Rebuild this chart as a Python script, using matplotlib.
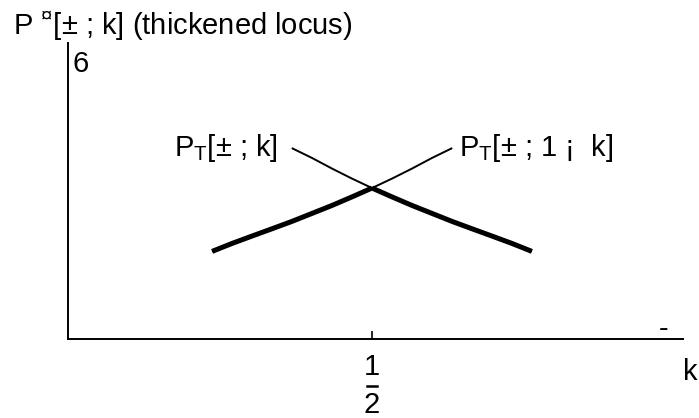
import numpy as np
import matplotlib
matplotlib.use("Agg")
import matplotlib.pyplot as plt

FONT = "Liberation Sans"
plt.rcParams['font.family'] = [FONT, 'DejaVu Sans']
plt.rcParams['mathtext.fontset'] = 'custom'
plt.rcParams['mathtext.rm'] = FONT

# curve: P_T[delta; k] (decreasing); the other branch is P_T[delta; 1-k]
k_dec = [0.368, 0.401, 0.434, 0.467, 0.500, 0.533, 0.566, 0.599, 0.632, 0.665, 0.697, 0.730, 0.763]
v_dec = [0.645, 0.612, 0.576, 0.542, 0.510, 0.480, 0.451, 0.424, 0.397, 0.372, 0.348, 0.323, 0.296]
k_inc = [round(1 - k, 3) for k in k_dec]
v_inc = list(v_dec)

half = 0.5
tick_k = [half]
title_txt = "P $^{¤}$[± ; k] (thickened locus)"
lab_dec = "P$_\\mathrm{T}$[± ; k]"
lab_inc = "P$_\\mathrm{T}$[± ; 1 ¡  k]"

W, H = 699, 418
fig = plt.figure(figsize=(W/100, H/100), dpi=100)
ax = fig.add_axes([68/W, (H-339)/H, 615/W, 296/H])
ax.set_xlim(0, 615/608); ax.set_ylim(0, 1)
for s in ['top', 'right']: ax.spines[s].set_visible(False)
for s in ['left', 'bottom']: ax.spines[s].set_linewidth(1.4)
ax.set_yticks([])
ax.set_xticks(tick_k); ax.set_xticklabels([])
ax.tick_params(axis='x', direction='in', length=6, width=1.2)

kd, vd = np.array(k_dec), np.array(v_dec)
ki, vi = np.array(k_inc), np.array(v_inc)
# thin full curves
ax.plot(kd, vd, color='black', lw=1.4, solid_capstyle='butt')
ax.plot(ki, vi, color='black', lw=1.4, solid_capstyle='butt')
# thickened locus = lower envelope beyond the crossing
m = kd >= half
ax.plot(kd[m], vd[m], color='black', lw=3.6, solid_capstyle='butt', solid_joinstyle='round')
m = ki <= half
ax.plot(ki[m], vi[m], color='black', lw=3.6, solid_capstyle='butt', solid_joinstyle='round')

fs = 21
def px(x, y):
    return ((x-68)/608, (339-y)/296)

ax.text(*px(174, 156), lab_dec, fontsize=fs, ha='left', va='baseline', clip_on=False)
ax.text(*px(459, 156), lab_inc, fontsize=fs, ha='left', va='baseline', clip_on=False)
ax.text(*px(72, 72), "6", fontsize=fs, ha='left', va='baseline', clip_on=False)
ax.text(*px(372, 375), "1", fontsize=fs, ha='center', va='baseline', clip_on=False)
ax.plot([half-0.009, half+0.009], [px(0, 386)[1]]*2, color='black', lw=1.8, clip_on=False)
ax.text(*px(372, 413), "2", fontsize=fs, ha='center', va='baseline', clip_on=False)
ax.text(*px(683, 380), "k", fontsize=fs, ha='left', va='baseline', clip_on=False)
ax.text(*px(664, 337), "-", fontsize=fs, ha='center', va='baseline', clip_on=False)
fig.text(13/W, (H-35)/H, title_txt, fontsize=fs, ha='left', va='baseline')

fig.savefig("out.png", dpi=100)
